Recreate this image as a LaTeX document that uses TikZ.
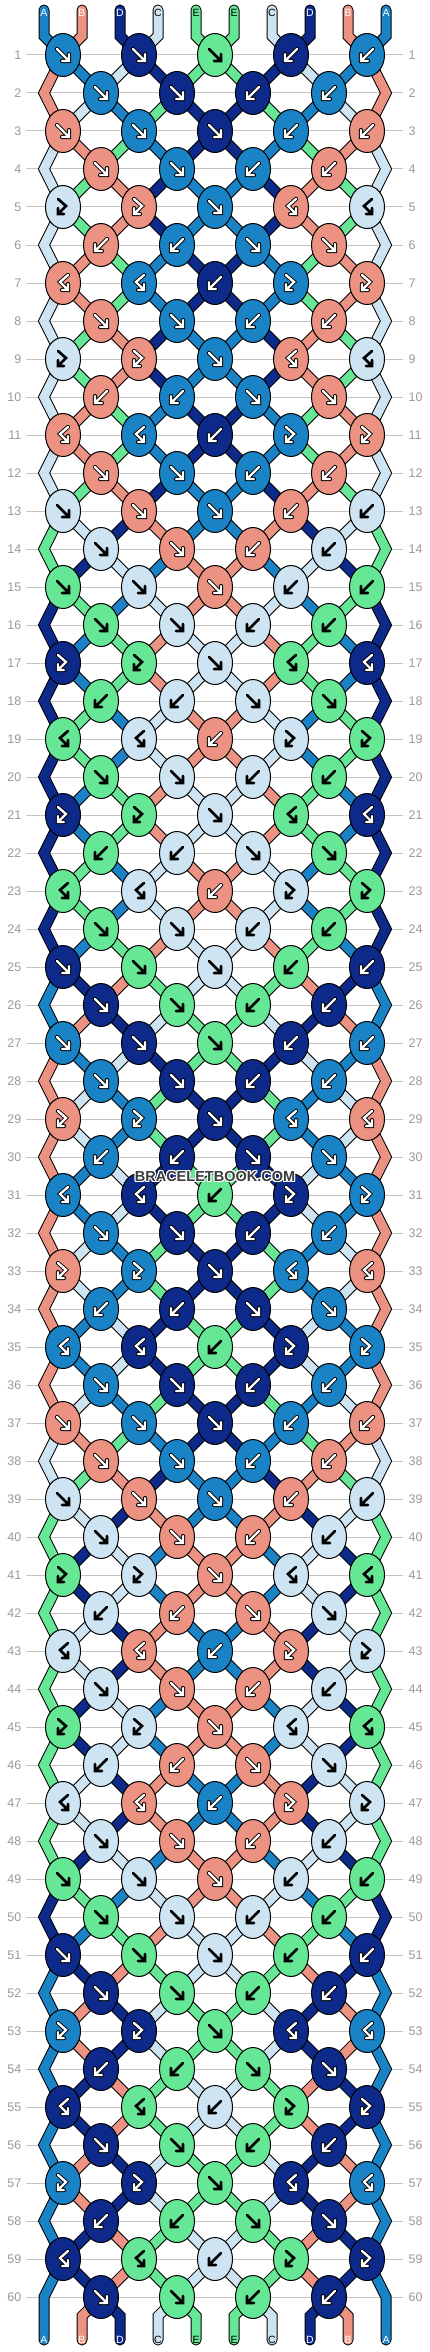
\documentclass[tikz,border=0pt]{standalone}
\usepackage{fontspec}
\setmainfont{Liberation Sans}
\definecolor{colA}{HTML}{1A83C5}
\definecolor{colB}{HTML}{EB9282}
\definecolor{colC}{HTML}{CEE4F2}
\definecolor{colD}{HTML}{0D2A8B}
\definecolor{colE}{HTML}{66E796}
\definecolor{rowgray}{HTML}{9A9A9A}
\definecolor{linegray}{HTML}{C4C4C4}
\definecolor{wmark}{HTML}{3C3C3C}
% arrow mode per colour: 1 = white arrow, 0 = black arrow
\def\arrA{1}\def\arrB{1}\def\arrD{1}\def\arrC{0}\def\arrE{0}
\def\bbPodd#1{\ifcase#1 0\or63\or63\or139\or139\or215\or215\or291\or291\or367\or367\fi}
\def\bbPeven#1{\ifcase#1 0\or44\or101\or101\or177\or177\or253\or253\or329\or329\or386\fi}
\def\bbmir#1{\ifcase#1 0\or2\or1\or4\or3\fi}
% knot: row, index, left position, type (1 f, 2 b, 3 fb, 4 bf)
\def\bbknot#1#2#3#4{%
  \edef\tmpL{\csname S-#3\endcsname}%
  \edef\tmpR{\csname S-\the\numexpr#3+1\relax\endcsname}%
  \ifodd#4\relax
    \expandafter\xdef\csname K-#1-#2\endcsname{\tmpL}%
  \else
    \expandafter\xdef\csname K-#1-#2\endcsname{\tmpR}%
  \fi
  \expandafter\xdef\csname T-#1-#2\endcsname{#4}%
  \ifnum#4<3\relax
    \expandafter\xdef\csname S-#3\endcsname{\tmpR}%
    \expandafter\xdef\csname S-\the\numexpr#3+1\relax\endcsname{\tmpL}%
  \fi}
\def\bbrow#1#2#3#4{%
  \edef\ma{\bbmir{#2}}\edef\mb{\bbmir{#3}}%
  \ifodd#1\relax
    \bbknot{#1}{1}{1}{#2}\bbknot{#1}{2}{3}{#3}\bbknot{#1}{3}{5}{#4}\bbknot{#1}{4}{7}{\mb}\bbknot{#1}{5}{9}{\ma}%
  \else
    \bbknot{#1}{1}{2}{#2}\bbknot{#1}{2}{4}{#3}\bbknot{#1}{3}{6}{\mb}\bbknot{#1}{4}{8}{\ma}%
  \fi
  \foreach \p in {1,...,10}{\expandafter\xdef\csname C-#1-\p\endcsname{\csname S-\p\endcsname}}%
}
\foreach \p/\c in {1/A,2/B,3/D,4/C,5/E,6/E,7/C,8/D,9/B,10/A}{%
  \expandafter\xdef\csname S-\p\endcsname{\c}%
  \expandafter\xdef\csname C-0-\p\endcsname{\c}}
\foreach \r/\ta/\tb/\tc in {1/1/1/1,2/1/1/0,3/1/1/1,4/1/1/0,5/3/3/1,6/2/2/0,7/4/4/2,8/1/1/0,9/3/3/1,10/2/2/0,11/4/4/2,12/1/1/0,13/1/1/1,14/1/1/0,15/1/1/1,16/1/1/0,17/3/3/1,18/2/2/0,19/4/4/2,20/1/1/0,21/3/3/1,22/2/2/0,23/4/4/2,24/1/1/0,25/1/1/1,26/1/1/0,27/1/1/1,28/1/1/0,29/3/3/1,30/2/2/0,31/4/4/2,32/1/1/0,33/3/3/1,34/2/2/0,35/4/4/2,36/1/1/0,37/1/1/1,38/1/1/0,39/1/1/1,40/1/1/0,41/3/3/1,42/2/2/0,43/4/4/2,44/1/1/0,45/3/3/1,46/2/2/0,47/4/4/2,48/1/1/0,49/1/1/1,50/1/1/0,51/1/1/1,52/1/1/0,53/3/3/1,54/2/2/0,55/4/4/2,56/1/1/0,57/3/3/1,58/2/2/0,59/4/4/2,60/1/1/0}{\bbrow{\r}{\ta}{\tb}{\tc}}
% string drawing
\def\smode{0}
\def\bbsdraw#1#2{\edef\tmpcol{col#1}%
  \ifnum\smode=0 \draw[line width=11pt,draw=black,line join=miter,line cap=round]#2;%
  \else\draw[line width=9pt,draw=\tmpcol,line join=miter,line cap=round]#2;\fi}
\def\bbstrings{%
  \foreach \p in {1,...,10}{%
    \edef\cc{\csname C-0-\p\endcsname}%
    \edef\xa{\the\numexpr6+38*\p\relax}%
    \edef\xb{\bbPodd{\p}}%
    \bbsdraw{\cc}{(\xa,10) -- (\xa,36) -- (\xb,55)}%
  }%
  \foreach \r in {1,...,59}{%
    \edef\ya{\the\numexpr17+38*\r\relax}%
    \edef\yb{\the\numexpr55+38*\r\relax}%
    \foreach \p in {2,...,9}{%
      \edef\cc{\csname C-\r-\p\endcsname}%
      \ifodd\r\relax\edef\xa{\bbPodd{\p}}\edef\xb{\bbPeven{\p}}\else\edef\xa{\bbPeven{\p}}\edef\xb{\bbPodd{\p}}\fi
      \bbsdraw{\cc}{(\xa,\ya) -- (\xb,\yb)}%
    }%
  }%
  \foreach \r in {2,4,...,58}{%
    \edef\ya{\the\numexpr17+38*(\r-1)\relax}%
    \edef\yb{\the\numexpr17+38*\r\relax}%
    \edef\yc{\the\numexpr17+38*(\r+1)\relax}%
    \edef\cc{\csname C-\r-1\endcsname}%
    \bbsdraw{\cc}{(63,\ya) -- (44,\yb) -- (63,\yc)}%
    \edef\cc{\csname C-\r-10\endcsname}%
    \bbsdraw{\cc}{(367,\ya) -- (386,\yb) -- (367,\yc)}%
  }%
  \edef\cc{\csname C-60-1\endcsname}\bbsdraw{\cc}{(63,2259) -- (44,2297) -- (44,2340)}%
  \edef\cc{\csname C-60-10\endcsname}\bbsdraw{\cc}{(367,2259) -- (386,2297) -- (386,2340)}%
  \foreach \p in {2,...,9}{%
    \edef\cc{\csname C-60-\p\endcsname}%
    \edef\xa{\bbPeven{\p}}%
    \edef\xb{\the\numexpr6+38*\p\relax}%
    \bbsdraw{\cc}{(\xa,2297) -- (\xb,2316) -- (\xb,2340)}%
  }%
}
\def\bbarrowpath#1#2{\ifcase#1\or
  \draw[#2] (-6,-6) -- (5.5,5.5) (6,-1) -- (6,6) -- (-1,6);%
  \or
  \draw[#2] (6,-6) -- (-5.5,5.5) (-6,-1) -- (-6,6) -- (1,6);%
  \or
  \draw[#2] (-5,-8) -- (3,-1) -- (-4.5,6.5) (-5,1) -- (-5,7) -- (1,7);%
  \or
  \draw[#2] (5,-8) -- (-3,-1) -- (4.5,6.5) (5,1) -- (5,7) -- (-1,7);%
  \fi}
\def\bbknotarrow#1#2#3#4{%
  \begin{scope}[shift={(#1,#2)}]
  \ifnum#4=1
    \bbarrowpath{#3}{black,line width=4.2pt,line cap=round}%
    \bbarrowpath{#3}{white,line width=2.4pt,line cap=round}%
  \else
    \bbarrowpath{#3}{black,line width=2.7pt,line cap=round}%
  \fi
  \end{scope}}
\begin{document}
\begin{tikzpicture}[x=1pt,y=-1pt]
\useasboundingbox (0,0) rectangle (430,2352);
\fill[white] (0,0) rectangle (430,2352);
% row lines and numbers
\foreach \r in {1,...,60}{%
  \edef\yy{\the\numexpr17+38*\r\relax}%
  \draw[linegray,line width=1pt] (26,\yy) -- (403,\yy);
  \node[anchor=east,inner sep=0pt,text=rowgray,font=\fontsize{12.5}{13}\selectfont] (nl\r) at (21.5,\yy) {\r};
  \node[anchor=west,inner sep=0pt,text=rowgray,font=\fontsize{12.5}{13}\selectfont] (nr\r) at (408.5,\yy) {\r};
}
% strings
\def\smode{0}\bbstrings
\def\smode{1}\bbstrings
% knots
\foreach \r in {1,...,60}{%
  \edef\yy{\the\numexpr17+38*\r\relax}%
  \ifodd\r\relax\def\nk{5}\def\xo{0-13}\else\def\nk{4}\def\xo{25}\fi
  \foreach \k in {1,...,\nk}{%
    \edef\xx{\the\numexpr76*\k+\xo\relax}%
    \edef\kc{\csname K-\r-\k\endcsname}%
    \edef\kt{\csname T-\r-\k\endcsname}%
    \edef\km{\csname arr\kc\endcsname}%
    \edef\tmpcol{col\kc}%
    \draw[fill=\tmpcol,line width=1pt] (\xx,\yy) ellipse [x radius=17.5pt,y radius=21.5pt];
    \bbknotarrow{\xx}{\yy}{\kt}{\km}%
  }%
}
% string labels
\foreach \p/\c/\t in {1/A/white,2/B/white,3/D/white,4/C/black,5/E/black,6/E/black,7/C/black,8/D/white,9/B/white,10/A/white}{%
  \edef\xx{\the\numexpr6+38*\p\relax}%
  \node[inner sep=0pt,text=\t,font=\fontsize{10.5}{11}\selectfont] (lt\p) at (\xx,13) {\c};
  \node[inner sep=0pt,text=\t,font=\fontsize{10.5}{11}\selectfont] (lb\p) at (\xx,2340) {\c};
}
% watermark
\foreach \dx/\dy in {-1/0,1/0,0/-1,0/1,-1/-1,1/1,-1/1,1/-1}{%
  \node[inner sep=0pt,text=white,font=\bfseries\fontsize{14.5}{15}\selectfont] at (215+\dx,1176+\dy) {BRACELETBOOK.COM};
}
\node[inner sep=0pt,text=wmark,font=\bfseries\fontsize{14.5}{15}\selectfont] (wm) at (215,1176) {BRACELETBOOK.COM};
\end{tikzpicture}
\end{document}
